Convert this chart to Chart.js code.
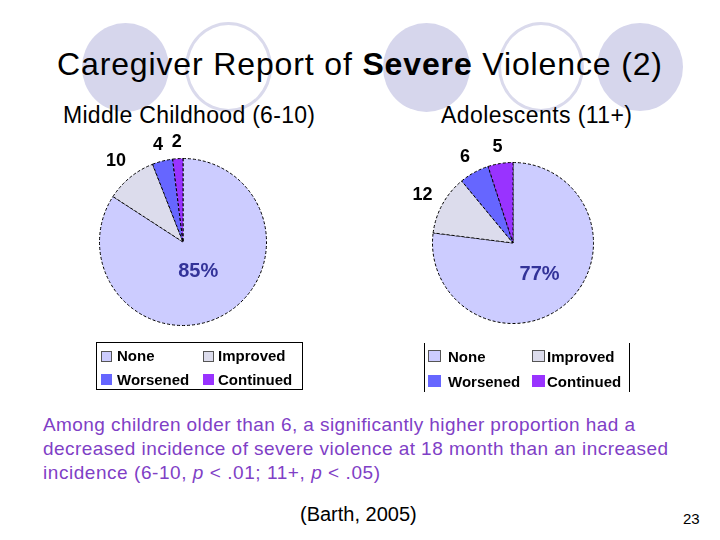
<!DOCTYPE html>
<html>
<head>
<meta charset="utf-8">
<script src="https://cdn.jsdelivr.net/npm/chart.js@4/dist/chart.umd.min.js"></script>
<style>
  html, body { margin: 0; padding: 0; background: #fff; }
  #slide { position: relative; width: 720px; height: 540px; overflow: hidden; background: #fff;
           font-family: "Liberation Sans", Arial, sans-serif; }
  .circ { position: absolute; border-radius: 50%; box-sizing: border-box; }
  .fill { background: #d6d6ec; }
  .ring { border: 3px solid #dadaec; }
  .txt { position: absolute; white-space: nowrap; line-height: 1; }
  canvas { position: absolute; }
  .legend { position: absolute; box-sizing: border-box; }
  .sw { position: absolute; box-sizing: border-box; }
  .lt { position: absolute; white-space: nowrap; line-height: 1; font-weight: bold; font-size: 15px; color: #000; }
</style>
</head>
<body>
<div id="slide">
  <div class="circ fill" style="left:82px;top:23px;width:87px;height:89px;"></div>
  <div class="circ ring" style="left:185px;top:22px;width:87px;height:90px;"></div>
  <div class="circ fill" style="left:383px;top:23px;width:87px;height:89px;"></div>
  <div class="circ ring" style="left:498px;top:22px;width:86px;height:90px;"></div>
  <div class="circ fill" style="left:597px;top:23px;width:86px;height:88px;"></div>

  <div class="txt fit" data-w="605" style="left:57px;top:48px;font-size:32px;color:#000;">Caregiver Report of <b>Severe</b> Violence (2)</div>
  <div class="txt fit" data-w="252" style="left:63px;top:103.5px;font-size:23px;color:#000;">Middle Childhood (6-10)</div>
  <div class="txt fit" data-w="191" style="left:441px;top:103.5px;font-size:23px;color:#000;">Adolescents (11+)</div>

  <canvas id="c1" width="260" height="260" style="left:53px;top:112px;"></canvas>
  <canvas id="c2" width="260" height="260" style="left:383px;top:113px;"></canvas>

  <div id="leg1" class="legend" style="left:96px;top:342px;width:207px;height:48px;border:1px solid #000;"></div>
  <div id="leg2" class="legend" style="left:424px;top:343px;width:206px;height:49px;border-left:1px solid #000;border-right:1px solid #000;"></div>

  <div class="txt fit" data-w="592" style="left:43px;top:415px;font-size:19px;color:#7f40c6;">Among children older than 6, a significantly higher proportion had a</div>
  <div class="txt fit" data-w="625" style="left:43px;top:439px;font-size:19px;color:#7f40c6;">decreased incidence of severe violence at 18 month than an increased</div>
  <div class="txt fit" data-w="337" style="left:43px;top:463px;font-size:19px;color:#7f40c6;">incidence (6-10, <i>p</i> &lt; .01; 11+, <i>p</i> &lt; .05)</div>

  <div class="txt" style="left:300px;top:504px;font-size:20px;color:#000;">(Barth, 2005)</div>
  <div class="txt" style="left:683px;top:511px;font-size:15px;color:#000;">23</div>
</div>
<script>
// ---- data ----
const categories = ['None', 'Improved', 'Worsened', 'Continued'];
const middleChildhoodValues = [85, 10, 4, 2];
const adolescentValues = [77, 12, 6, 5];
const sliceColors = ['#ccccff', '#dcdcec', '#6666ff', '#9933ff'];

// fit text widths
document.querySelectorAll('.fit').forEach(el => {
  const target = parseFloat(el.dataset.w);
  const natural = el.getBoundingClientRect().width;
  const n = el.textContent.length - 1;
  if (n > 0) el.style.letterSpacing = ((target - natural) / n) + 'px';
});

const FONT = '"Liberation Sans", Arial, sans-serif';

const sliceLabels = {
  id: 'sliceLabels',
  afterDatasetsDraw(chart, args, opts) {
    const ctx = chart.ctx;
    const meta = chart.getDatasetMeta(0);
    const values = chart.data.datasets[0].data;
    meta.data.forEach((arc, i) => {
      const p = arc.getProps(['x', 'y', 'startAngle', 'endAngle', 'outerRadius'], true);
      const mid = (p.startAngle + p.endAngle) / 2;
      const ux = Math.cos(mid), uy = Math.sin(mid);
      ctx.save();
      ctx.textAlign = 'center';
      ctx.textBaseline = 'alphabetic';
      let txt, x, y, size;
      if (i === 0) {
        size = 20;
        ctx.font = 'bold ' + size + 'px ' + FONT;
        ctx.fillStyle = '#333399';
        txt = values[i] + '%';
        const d = p.outerRadius * opts.insideFrac;
        x = p.x + ux * d; y = p.y + uy * d;
      } else {
        size = 18;
        ctx.font = 'bold ' + size + 'px ' + FONT;
        ctx.fillStyle = '#000';
        txt = String(values[i]);
        const w = ctx.measureText(txt).width, h = size * 0.716;
        const ext = Math.abs(ux) * w / 2 + Math.abs(uy) * h / 2;
        const d = p.outerRadius + 11 + ext;
        x = p.x + ux * d; y = p.y + uy * d;
      }
      ctx.fillText(txt, x, y + size * 0.716 / 2);
      ctx.restore();
    });
  }
};

function makePie(id, values, pad, insideFrac) {
  return new Chart(document.getElementById(id), {
    type: 'pie',
    data: {
      labels: categories,
      datasets: [{
        data: values,
        backgroundColor: sliceColors,
        borderColor: '#000',
        borderWidth: 1,
        borderDash: [3, 2]
      }]
    },
    options: {
      responsive: false,
      animation: false,
      layout: { padding: pad },
      plugins: {
        legend: { display: false },
        tooltip: { enabled: false },
        sliceLabels: { insideFrac: insideFrac }
      }
    },
    plugins: [sliceLabels]
  });
}
makePie('c1', middleChildhoodValues, 46, 0.38);
makePie('c2', adolescentValues, 49, 0.5);

// legends
function buildLegend(id, geo) {
  const box = document.getElementById(id);
  const r = box.getBoundingClientRect();
  const s = document.getElementById('slide').getBoundingClientRect();
  const ox = r.left - s.left + box.clientLeft, oy = r.top - s.top + box.clientTop;
  categories.forEach((name, i) => {
    const col = i % 2, row = Math.floor(i / 2);
    const sw = document.createElement('div');
    sw.className = 'sw';
    sw.style.left = (geo.swX[col] - ox) + 'px';
    sw.style.top = (geo.swY[row] - oy) + 'px';
    sw.style.width = geo.swW + 'px';
    sw.style.height = geo.swH + 'px';
    sw.style.background = sliceColors[i];
    sw.style.border = '1px solid ' + (i < 2 ? '#555' : sliceColors[i]);
    box.appendChild(sw);
    const t = document.createElement('div');
    t.className = 'lt';
    t.textContent = name;
    t.style.left = (geo.txX[col] - ox) + 'px';
    t.style.top = (geo.base[row] - 15 * 0.8465 - oy) + 'px';
    box.appendChild(t);
  });
}
buildLegend('leg1', { swX: [101, 203], swY: [351, 374], swW: 11, swH: 11, txX: [117, 218], base: [361, 385] });
buildLegend('leg2', { swX: [428, 532], swY: [350, 375], swW: 13, swH: 12, txX: [448, 547], base: [362, 387] });
</script>
</body>
</html>
